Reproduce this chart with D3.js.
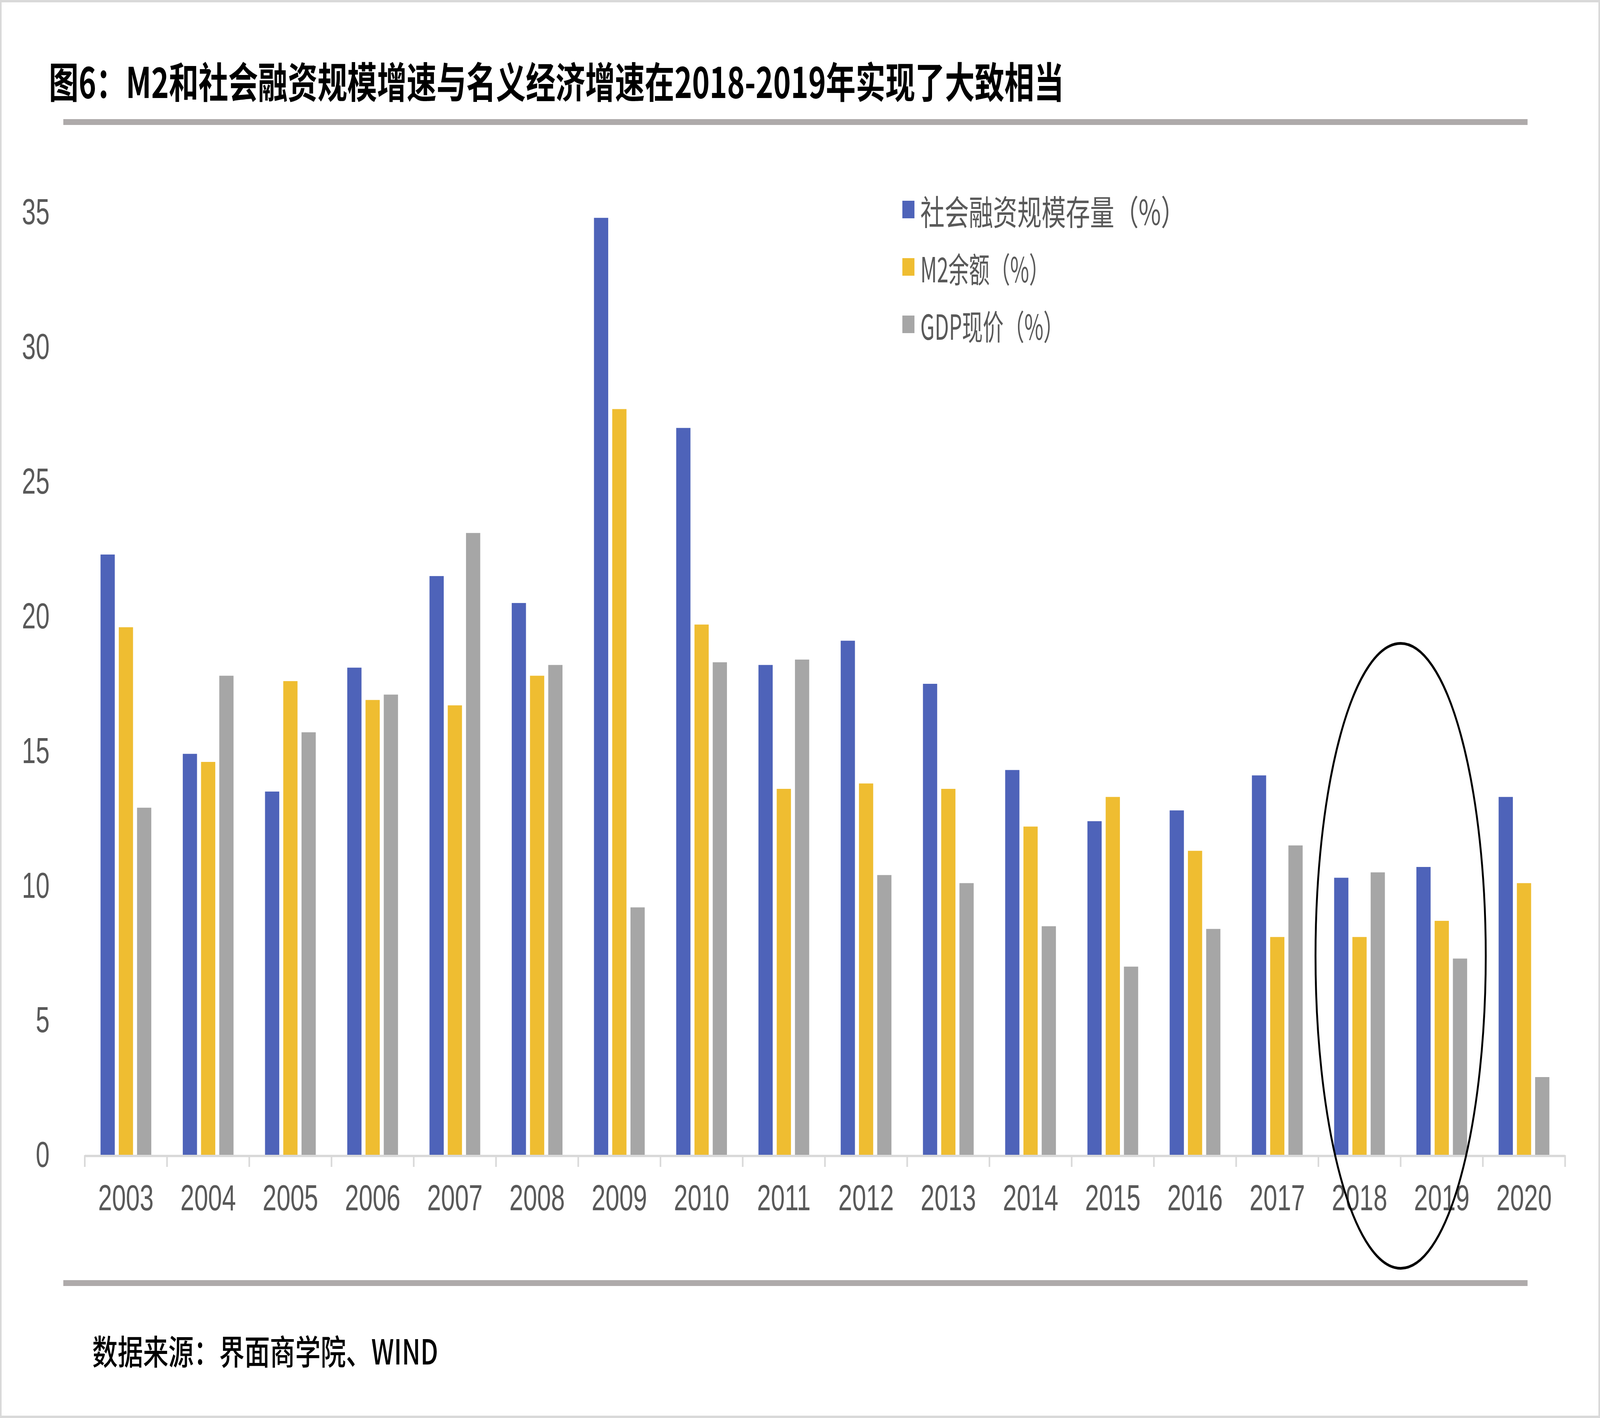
<!DOCTYPE html>
<html>
<head>
<meta charset="utf-8">
<script src="https://cdn.jsdelivr.net/npm/d3@7"></script>
<style>
  html, body { margin: 0; padding: 0; background: #ffffff; overflow: hidden; }
  svg { display: block; }
</style>
</head>
<body>
<script>
const years = ['2003','2004','2005','2006','2007','2008','2009','2010','2011','2012','2013','2014','2015','2016','2017','2018','2019','2020'];
const tsfStock = [22.3,14.9,13.5,18.1,21.5,20.5,34.8,27.0,18.2,19.1,17.5,14.3,12.4,12.8,14.1,10.3,10.7,13.3];
const m2Balance = [19.6,14.6,17.6,16.9,16.7,17.8,27.7,19.7,13.6,13.8,13.6,12.2,13.3,11.3,8.1,8.1,8.7,10.1];
const gdpNominal = [12.9,17.8,15.7,17.1,23.1,18.2,9.2,18.3,18.4,10.4,10.1,8.5,7.0,8.4,11.5,10.5,7.3,2.9];
const seriesNames = ['社会融资规模存量（%）','M2余额（%）','GDP现价（%）'];
const seriesColors = ['#4E63B9','#EFBD31','#A6A6A6'];
const yTicks = [0,5,10,15,20,25,30,35];
const titleText = '图6：M2和社会融资规模增速与名义经济增速在2018-2019年实现了大致相当';
const sourceText = '数据来源：界面商学院、WIND';

const W = 5963, H = 3631;
const plotLeft = 316, plotRight = 5833, plotTop = 544, plotBottom = 2958;

const svg = d3.select('body').append('svg')
  .attr('viewBox', `0 0 ${W} ${H}`)
  .attr('preserveAspectRatio','none')
  .style('width','100vw').style('height','100vh');

svg.append('rect').attr('x',0).attr('y',0).attr('width',W).attr('height',H)
  .attr('fill','#ffffff').attr('stroke','#d9d9d9').attr('stroke-width',12);

// Title
svg.append('text').attr('x',182).attr('y',204)
  .attr('dominant-baseline','central')
  .attr('font-family','"Noto Sans CJK SC", sans-serif').attr('font-weight',700)
  .attr('font-size',108).attr('fill','#000000')
  .attr('textLength',3783).attr('lengthAdjust','spacingAndGlyphs')
  .text(titleText);
svg.append('rect').attr('x',236).attr('y',305).attr('width',5693-236).attr('height',15).attr('fill','#AEAAAA');

// Scales
const x0 = d3.scaleBand().domain(years).range([plotLeft, plotRight]).paddingInner(0).paddingOuter(0);
const groupW = x0.bandwidth()*0.617;
const x1 = d3.scaleBand().domain(d3.range(3)).range([0, groupW]).paddingInner(0.22).paddingOuter(0);
const y = d3.scaleLinear().domain([0,35]).range([plotBottom, plotTop]);

const data = years.map((yr,i)=>({year:yr, vals:[tsfStock[i], m2Balance[i], gdpNominal[i]]}));

const groups = svg.append('g').selectAll('g').data(data).join('g')
  .attr('transform', d => `translate(${x0(d.year) + (x0.bandwidth()-groupW)/2},0)`);
groups.selectAll('rect').data(d => d.vals.map((v,k)=>({v,k}))).join('rect')
  .attr('x', d => x1(d.k)).attr('width', x1.bandwidth())
  .attr('y', d => y(d.v)).attr('height', d => y(0)-y(d.v))
  .attr('fill', d => seriesColors[d.k]);

// X axis line + boundary ticks
const axisG = svg.append('g');
axisG.append('line').attr('x1',plotLeft).attr('x2',plotRight).attr('y1',y(0)+2).attr('y2',y(0)+2)
  .attr('stroke','#D9D9D9').attr('stroke-width',6);
const bounds = years.map(yr => x0(yr)).concat([plotRight]);
axisG.selectAll('line.tk').data(bounds).join('line').attr('class','tk')
  .attr('x1',d=>d).attr('x2',d=>d).attr('y1',y(0)).attr('y2',y(0)+30)
  .attr('stroke','#D9D9D9').attr('stroke-width',6);

const xAxis = svg.append('g').attr('transform',`translate(0,${y(0)})`)
  .call(d3.axisBottom(x0).tickSize(0).tickPadding(75));
xAxis.select('.domain').remove();
xAxis.selectAll('text').attr('font-family','"Liberation Sans", Arial, sans-serif')
  .attr('font-size',93).attr('fill','#595959');

const yAxis = svg.append('g').attr('transform','translate(200,0)')
  .call(d3.axisLeft(y).tickValues(yTicks).tickSize(0).tickPadding(15));
yAxis.select('.domain').remove();
yAxis.selectAll('text').attr('font-family','"Liberation Sans", Arial, sans-serif')
  .attr('font-size',93).attr('fill','#595959');

// Legend
const legendY = [536, 683, 830];
const legendW = [987, 482, 536];
const leg = svg.append('g').selectAll('g').data(seriesNames).join('g');
leg.append('rect').attr('x',3363).attr('y',(d,i)=>legendY[i]-22).attr('width',45).attr('height',45)
  .attr('fill',(d,i)=>seriesColors[i]);
leg.append('text').attr('x',3430).attr('y',(d,i)=>legendY[i]+2)
  .attr('dominant-baseline','central')
  .attr('font-family','"Noto Sans CJK SC", sans-serif').attr('font-size',88).attr('fill','#595959')
  .attr('textLength',(d,i)=>legendW[i]).attr('lengthAdjust','spacingAndGlyphs')
  .text(d=>d);

// Highlight ellipse around 2018-2019
svg.append('ellipse')
  .attr('cx', x0('2019')).attr('cy', (y(19)+y(-4.2))/2)
  .attr('rx', x0.bandwidth()*1.035).attr('ry', (y(-4.2)-y(19))/2)
  .attr('fill','none').attr('stroke','#000000').attr('stroke-width',7);

// Bottom rule and source
svg.append('rect').attr('x',236).attr('y',3278).attr('width',5693-236).attr('height',15).attr('fill','#AEAAAA');
svg.append('text').attr('x',344).attr('y',3456)
  .attr('dominant-baseline','central')
  .attr('font-family','"Noto Sans CJK SC", sans-serif').attr('font-weight',500)
  .attr('font-size',88).attr('fill','#000000')
  .attr('textLength',1289).attr('lengthAdjust','spacingAndGlyphs')
  .text(sourceText);
</script>
</body>
</html>
